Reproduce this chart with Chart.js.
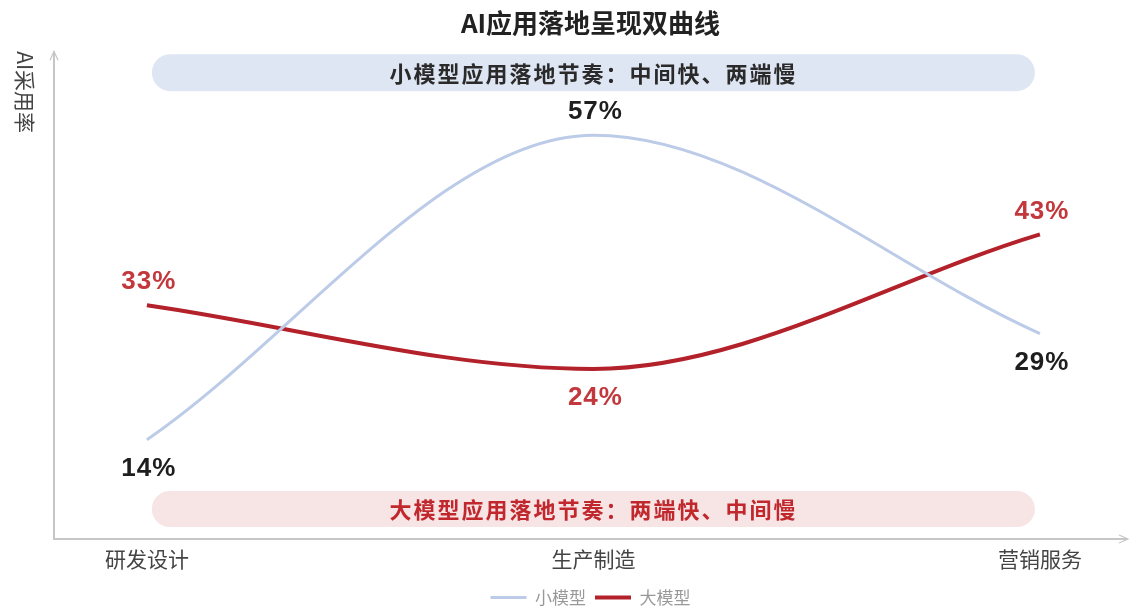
<!DOCTYPE html>
<html>
<head>
<meta charset="utf-8">
<script src="https://cdn.jsdelivr.net/npm/chart.js@4/dist/chart.umd.min.js"></script>
<style>
  body { margin: 0; background: #fff; }
  #wrap { width: 1130px; height: 606px; }
</style>
</head>
<body>
<div id="wrap"><canvas id="myChart"></canvas></div>
<script>
const categories = ["研发设计", "生产制造", "营销服务"];
const smallModel = [14, 57, 29];
const largeModel = [33, 24, 43];
const seriesNames = ["小模型", "大模型"];
const bannerTexts = ["小模型应用落地节奏：中间快、两端慢", "大模型应用落地节奏：两端快、中间慢"];
const chartTitle = "AI应用落地呈现双曲线";
const yAxisTitle = "AI采用率";

const CJK = '"Noto Sans CJK SC", sans-serif';
const NUM = '"Liberation Sans", Arial, sans-serif';
const AXIS_COLOR = "#c6c6c6";

function toPoints(values) {
  return values.map((v, i) => ({ x: i, y: v }));
}

// plain axis lines with arrow heads, plus the rotated y title
const axesPlugin = {
  id: "axes",
  beforeDatasetsDraw(chart) {
    const { ctx, chartArea } = chart;
    const { left, right, top, bottom } = chartArea;
    ctx.save();
    ctx.strokeStyle = AXIS_COLOR;
    ctx.lineWidth = 2;
    ctx.beginPath();
    ctx.moveTo(left, top - 5);
    ctx.lineTo(left, bottom);
    ctx.lineTo(right, bottom);
    ctx.stroke();
    ctx.lineWidth = 1.2;
    ctx.beginPath();
    ctx.moveTo(left - 4, top + 3);
    ctx.lineTo(left, top - 6);
    ctx.lineTo(left + 4, top + 3);
    ctx.moveTo(right - 8, bottom - 4);
    ctx.lineTo(right + 1, bottom);
    ctx.lineTo(right - 8, bottom + 4);
    ctx.stroke();

    ctx.translate(25, top - 6);
    ctx.rotate(Math.PI / 2);
    ctx.fillStyle = "#444";
    ctx.font = "21px " + CJK;
    ctx.textAlign = "left";
    ctx.textBaseline = "middle";
    ctx.fillText(yAxisTitle, 0, 0);
    ctx.restore();
  }
};

// rounded notes above and below the curves
const bannerPlugin = {
  id: "banners",
  beforeDatasetsDraw(chart) {
    const { ctx, chartArea } = chart;
    const xs = chart.scales.x;
    const x0 = xs.getPixelForValue(0) + 5;
    const x1 = xs.getPixelForValue(categories.length - 1) - 5;
    const boxes = [
      { y: chartArea.top - 3, h: 37, fill: "#dfe6f3", color: "#2a2a2a" },
      { y: chartArea.bottom - 48, h: 36, fill: "#f7e4e4", color: "#c0282e" }
    ];
    ctx.save();
    boxes.forEach((b, i) => {
      ctx.fillStyle = b.fill;
      ctx.beginPath();
      ctx.roundRect(x0, b.y, x1 - x0, b.h, b.h / 2);
      ctx.fill();
      ctx.fillStyle = b.color;
      ctx.font = "bold 22px " + CJK;
      ctx.letterSpacing = "2px";
      ctx.textAlign = "center";
      ctx.textBaseline = "middle";
      ctx.fillText(bannerTexts[i], (x0 + x1) / 2, b.y + b.h / 2 + 1);
    });
    ctx.restore();
  }
};

// percentage labels next to each point
const valueLabels = {
  id: "valueLabels",
  afterDatasetsDraw(chart) {
    const { ctx } = chart;
    ctx.save();
    ctx.font = "bold 26px " + NUM;
    ctx.letterSpacing = "1px";
    ctx.textAlign = "center";
    ctx.textBaseline = "middle";
    chart.data.datasets.forEach((ds, di) => {
      const meta = chart.getDatasetMeta(di);
      meta.data.forEach((pt, i) => {
        const below = ds.labelSide[i] === "below";
        ctx.fillStyle = ds.labelColor;
        ctx.fillText(ds.data[i].y + "%", pt.x + 2, pt.y + (below ? 29 : -23));
      });
    });
    ctx.restore();
  }
};

const xMin = -0.208;
const xMax = 2.195;

new Chart(document.getElementById("myChart"), {
  type: "line",
  data: {
    datasets: [
      {
        label: seriesNames[0],
        data: toPoints(smallModel),
        borderColor: "#bccbe7",
        backgroundColor: "#bccbe7",
        borderWidth: 3,
        cubicInterpolationMode: "monotone",
        pointRadius: 0,
        labelColor: "#1e1e1e",
        labelSide: ["below", "above", "below"]
      },
      {
        label: seriesNames[1],
        data: toPoints(largeModel),
        borderColor: "#b3212a",
        backgroundColor: "#b3212a",
        borderWidth: 4,
        cubicInterpolationMode: "monotone",
        pointRadius: 0,
        labelColor: "#c2383c",
        labelSide: ["above", "below", "above"]
      }
    ]
  },
  options: {
    responsive: true,
    maintainAspectRatio: false,
    animation: false,
    layout: {
      padding: { left: 54, right: 3, top: 0, bottom: -10 }
    },
    plugins: {
      title: {
        display: true,
        text: chartTitle,
        color: "#222",
        font: { family: CJK, size: 26, weight: "bold" },
        padding: { top: 8, bottom: 18 }
      },
      legend: {
        position: "bottom",
        labels: {
          usePointStyle: true,
          pointStyle: "line",
          pointStyleWidth: 36,
          color: "#999",
          font: { family: CJK, size: 17, lineHeight: 1 },
          padding: 9
        }
      },
      tooltip: { enabled: false }
    },
    scales: {
      x: {
        type: "linear",
        min: xMin,
        max: xMax,
        grid: { display: false, drawTicks: false },
        border: { display: false },
        afterBuildTicks(scale) {
          scale.ticks = categories.map((_, i) => ({ value: i }));
        },
        ticks: {
          autoSkip: false,
          maxRotation: 0,
          padding: 10,
          color: "#444",
          font: { family: CJK, size: 21, lineHeight: 1 },
          callback: (v) => categories[v]
        }
      },
      y: {
        display: false,
        min: 0,
        max: 68
      }
    }
  },
  plugins: [axesPlugin, bannerPlugin, valueLabels]
});
</script>
</body>
</html>
